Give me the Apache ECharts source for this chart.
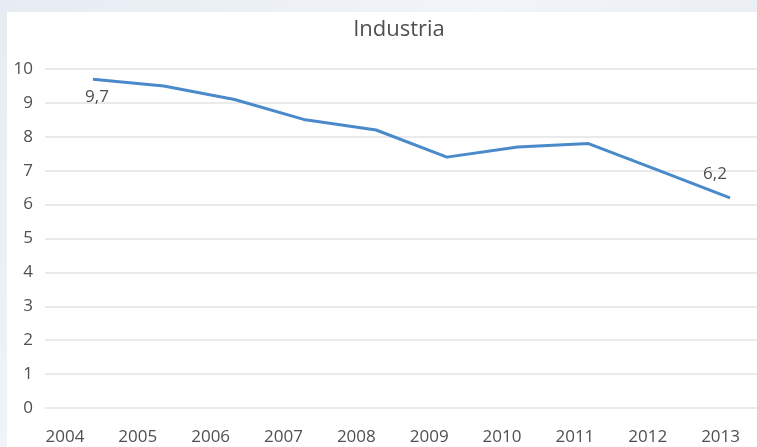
<!DOCTYPE html>
<html>
<head>
<meta charset="utf-8">
<script src="https://cdn.jsdelivr.net/npm/echarts@6/dist/echarts.min.js"></script>
<style>
  html, body { margin: 0; padding: 0; width: 757px; height: 447px; overflow: hidden;
    background: linear-gradient(135deg, #e6ecf2 0%, #f1f4f8 40%, #e2e8ef 100%); }
  #chart { position: absolute; left: 7px; top: 12px; width: 750px; height: 435px; background: #ffffff; }
</style>
</head>
<body>
<div id="chart"></div>
<script>
const titleText = 'Industria';
const years = ['2004', '2005', '2006', '2007', '2008', '2009', '2010', '2011', '2012', '2013'];
const values = [9.7, 9.5, 9.1, 8.5, 8.2, 7.4, 7.7, 7.8, 7.0, 6.2];
const yTicks = { min: 0, max: 10, interval: 1 };

const fmt = v => String(v).replace('.', ',');
const lastIdx = values.length - 1;
const seriesData = values.map((v, i) => {
  const item = { value: v };
  if (i === 0) {
    item.label = { show: true, position: 'bottom', distance: 9, offset: [4, 0] };
  } else if (i === lastIdx) {
    item.label = { show: true, position: 'top', distance: 15, offset: [-15, 0] };
  }
  return item;
});

const chart = echarts.init(document.getElementById('chart'));
const textColor = '#505050';
const fontFam = '"Open Sans", "Noto Sans", sans-serif';
const plotTop = 57, plotHeight = 339;
chart.setOption({
  animation: false,
  backgroundColor: '#ffffff',
  title: {
    text: titleText,
    left: 387,
    top: 2,
    textAlign: 'center',
    textStyle: { color: textColor, fontSize: 22, fontWeight: 'normal', fontFamily: fontFam }
  },
  grid: [
    { left: 38, top: plotTop, width: 712, height: plotHeight },
    { left: 21.5, top: plotTop, width: 730, height: plotHeight },
    { left: 86, top: plotTop, width: 637, height: plotHeight }
  ],
  xAxis: [
    { gridIndex: 0, type: 'category', data: years, show: false },
    {
      gridIndex: 1, type: 'category', data: years, boundaryGap: true,
      axisLine: { show: false }, axisTick: { show: false },
      axisLabel: { color: textColor, fontSize: 17, margin: 21, fontFamily: fontFam }
    },
    { gridIndex: 2, type: 'category', data: years, boundaryGap: false, show: false }
  ],
  yAxis: [
    {
      gridIndex: 0, type: 'value', min: yTicks.min, max: yTicks.max, interval: yTicks.interval,
      axisLine: { show: false }, axisTick: { show: false },
      axisLabel: { color: textColor, fontSize: 17, margin: 12, fontFamily: fontFam },
      splitLine: { lineStyle: { color: '#e3e3e3', width: 1.5 } }
    },
    { gridIndex: 1, type: 'value', min: yTicks.min, max: yTicks.max, show: false, splitLine: { show: false } },
    { gridIndex: 2, type: 'value', min: yTicks.min, max: yTicks.max, show: false, splitLine: { show: false } }
  ],
  series: [{
    type: 'line',
    xAxisIndex: 2,
    yAxisIndex: 2,
    data: seriesData,
    symbol: 'circle',
    symbolSize: 0,
    showSymbol: true,
    lineStyle: { color: '#4a8acb', width: 3 },
    itemStyle: { color: '#4a8acb' },
    label: { show: false, color: textColor, fontSize: 17, fontFamily: fontFam, formatter: p => fmt(p.value) }
  }]
});
</script>
</body>
</html>
